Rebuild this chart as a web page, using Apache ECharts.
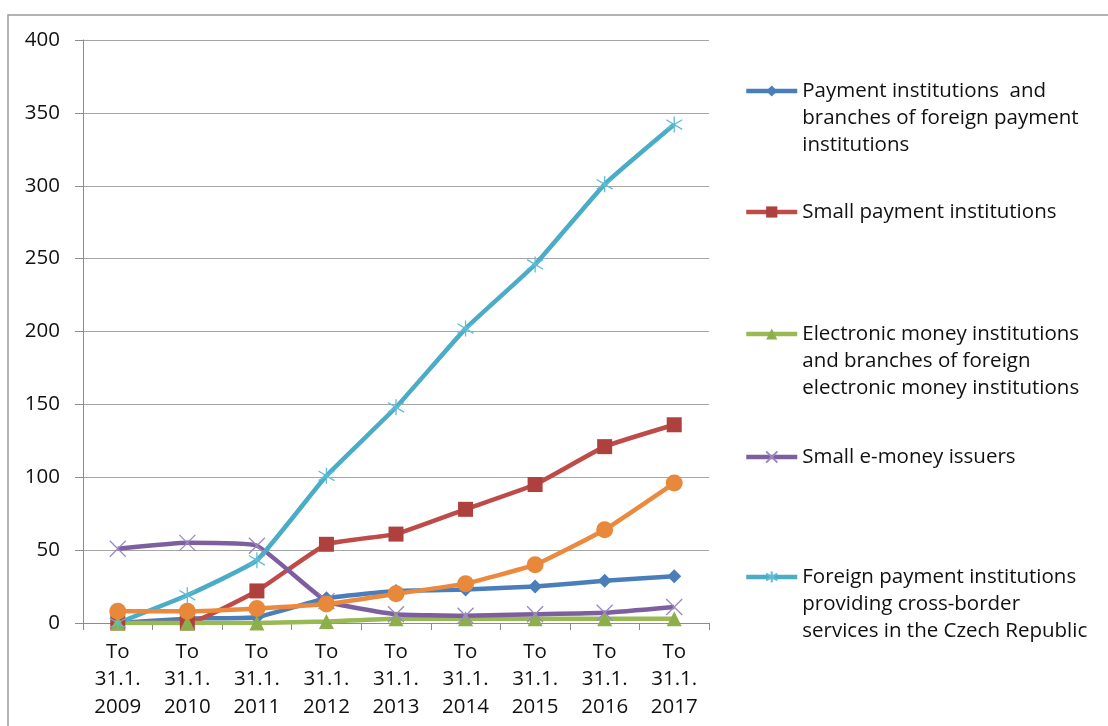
<!DOCTYPE html>
<html>
<head>
<meta charset="utf-8">
<script src="https://cdn.jsdelivr.net/npm/echarts@6/dist/echarts.min.js"></script>
<style>html,body{margin:0;padding:0;background:#fff}#c{width:1108px;height:726px}</style>
</head>
<body>
<div id="c"></div>
<script>
const categories = ['To\n31.1.\n2009','To\n31.1.\n2010','To\n31.1.\n2011','To\n31.1.\n2012','To\n31.1.\n2013','To\n31.1.\n2014','To\n31.1.\n2015','To\n31.1.\n2016','To\n31.1.\n2017'];
const yTicks = { min: 0, max: 400, interval: 50 };

const nameBlue = 'Payment institutions  and\nbranches of foreign payment\ninstitutions';
const nameRed = 'Small payment institutions';
const nameGreen = 'Electronic money institutions\nand branches of foreign\nelectronic money institutions';
const namePurple = 'Small e-money issuers';
const nameCyan = 'Foreign payment institutions\nproviding cross-border\nservices in the Czech Republic';
const nameOrange = 'Other';

const paymentInstitutions = [0, 3, 4, 17, 22, 23, 25, 29, 32];
const smallPaymentInstitutions = [0, 0, 22, 54, 61, 78, 95, 121, 136];
const emoneyInstitutions = [0, 0, 0, 1, 3, 3, 3, 3, 3];
const smallEmoneyIssuers = [51, 55, 53, 15, 6, 5, 6, 7, 11];
const foreignCrossBorder = [0, 19, 43, 101, 148, 202, 246, 301, 342];
const otherSeries = [8, 8, 10, 13, 20, 27, 40, 64, 96];

const FONT = 'Open Sans';
const FS = 20.5;
const chart = echarts.init(document.getElementById('c'));

function legendFor(name, top, multi) {
  return {
    left: 744, top: top, orient: 'vertical', padding: 0,
    itemWidth: 51, itemHeight: 14, itemGap: 5,
    data: [name], selectedMode: false,
    lineStyle: { width: 4.5 },
    formatter: multi ? (n) => '\n\n' + n : undefined,
    textStyle: { fontFamily: FONT, fontSize: FS, color: '#111', lineHeight: 27 }
  };
}

const xPath = 'path://M0,0 L10,10 M10,0 L0,10';
const starPath = 'path://M0,2 L10,8 M10,2 L0,8 M5,0 L5,10';

chart.setOption({
  animation: false,
  backgroundColor: '#fff',
  graphic: [{ type: 'rect', shape: { x: 8, y: 15, width: 1300, height: 900 },
    style: { fill: 'none', stroke: '#9a9a9a', lineWidth: 1.5 }, silent: true }],
  grid: { left: 83, right: 399, top: 40, bottom: 103 },
  legend: [
    legendFor(nameBlue, 91 - 67.5, true),
    legendFor(nameRed, 212 - 13.5, false),
    legendFor(nameGreen, 334 - 67.5, true),
    legendFor(namePurple, 457 - 13.5, false),
    legendFor(nameCyan, 577 - 67.5, true)
  ],
  xAxis: {
    type: 'category', data: categories, boundaryGap: true,
    axisLine: { lineStyle: { color: '#8c8c8c', width: 1 } },
    axisTick: { show: true, length: 7, lineStyle: { color: '#8c8c8c' } },
    axisLabel: { fontFamily: FONT, fontSize: FS, color: '#111', lineHeight: 27.5, margin: 15, interval: 0 },
    splitLine: { show: false }
  },
  yAxis: {
    type: 'value', min: yTicks.min, max: yTicks.max, interval: yTicks.interval,
    axisLine: { show: true, lineStyle: { color: '#8c8c8c', width: 1 } },
    axisTick: { show: true, length: 8, lineStyle: { color: '#8c8c8c' } },
    axisLabel: { fontFamily: FONT, fontSize: FS, color: '#111', margin: 23 },
    splitLine: { show: true, lineStyle: { color: '#a6a6a6', width: 1 } }
  },
  series: [
    { name: nameBlue, type: 'line', data: paymentInstitutions, smooth: 0.12,
      symbol: 'diamond', symbolSize: 14,
      lineStyle: { color: '#4A7EBB', width: 4.5 }, itemStyle: { color: '#4A7EBB' } },
    { name: nameRed, type: 'line', data: smallPaymentInstitutions, smooth: 0.12,
      symbol: 'rect', symbolSize: 15,
      lineStyle: { color: '#BE4B48', width: 4.5 }, itemStyle: { color: '#AE403D' } },
    { name: nameGreen, type: 'line', data: emoneyInstitutions, smooth: 0.12,
      symbol: 'triangle', symbolSize: 15,
      lineStyle: { color: '#98B954', width: 4.5 }, itemStyle: { color: '#8CAF4C' } },
    { name: namePurple, type: 'line', data: smallEmoneyIssuers, smooth: 0.12,
      symbol: xPath, symbolSize: 16,
      lineStyle: { color: '#7D5FA0', width: 4.5 },
      itemStyle: { color: 'rgba(0,0,0,0)', borderColor: '#9C88C2', borderWidth: 1.3 } },
    { name: nameCyan, type: 'line', data: foreignCrossBorder, smooth: 0.12,
      symbol: starPath, symbolSize: 16,
      lineStyle: { color: '#4BACC6', width: 4.5 },
      itemStyle: { color: 'rgba(0,0,0,0)', borderColor: '#5FBCD6', borderWidth: 1.3 } },
    { name: nameOrange, type: 'line', data: otherSeries, smooth: 0.12,
      symbol: 'circle', symbolSize: 17,
      lineStyle: { color: '#EB8A3E', width: 4.5 }, itemStyle: { color: '#E8883A' } }
  ]
});
</script>
</body>
</html>
